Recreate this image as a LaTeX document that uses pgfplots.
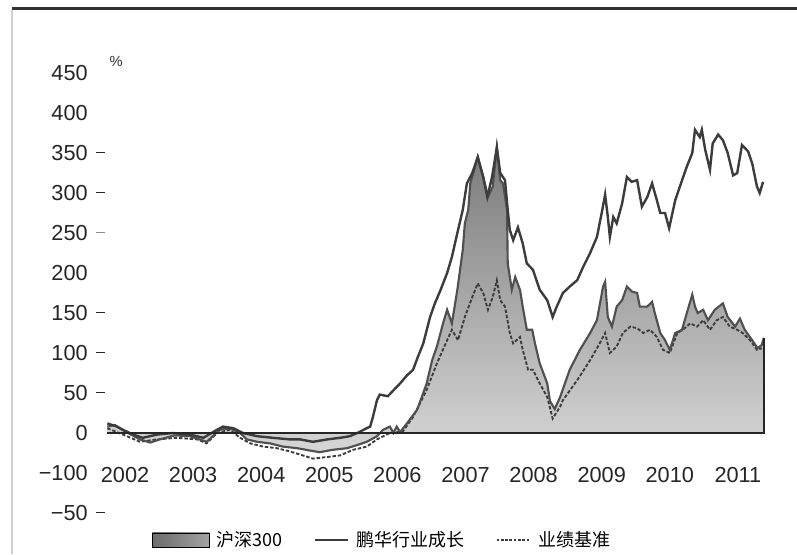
\documentclass[border=0pt]{standalone}
\usepackage{pgfplots}
\pgfplotsset{compat=1.18}
\usepackage{pgfplotstable}
\usepackage{fontspec}
\setmainfont{Liberation Sans}
\newfontfamily\cjk{Noto Sans CJK SC}
\definecolor{lineg}{HTML}{3C3C3C}
\definecolor{hsg}{HTML}{505050}

\pgfplotstableread{
x y
2001.74 12
2001.88 8
2001.97 4
2002.12 -2
2002.26 -6
2002.47 -2
2002.70 0
2002.95 -2
2003.15 -6
2003.35 4
2003.44 8
2003.59 6
2003.73 0
2003.94 -4
2004.17 -6
2004.42 -8
2004.57 -8
2004.76 -11
2004.97 -8
2005.16 -6
2005.30 -4
2005.41 0
2005.55 6
2005.60 8
2005.64 20
2005.70 41
2005.74 48
2005.86 46
2005.96 55
2006.04 62
2006.14 72
2006.23 79
2006.30 95
2006.38 112
2006.48 145
2006.55 162
2006.63 178
2006.73 200
2006.80 220
2006.88 250
2006.96 279
2007.02 312
2007.10 325
2007.18 345
2007.26 320
2007.32 295
2007.39 320
2007.46 357
2007.51 325
2007.58 316
2007.62 279
2007.65 254
2007.70 241
2007.77 257
2007.84 237
2007.90 212
2007.99 204
2008.09 179
2008.20 166
2008.28 145
2008.34 158
2008.43 175
2008.53 183
2008.64 191
2008.73 208
2008.83 225
2008.93 245
2009.00 275
2009.05 298
2009.09 270
2009.12 245
2009.17 270
2009.22 262
2009.30 287
2009.37 320
2009.44 314
2009.52 316
2009.59 283
2009.67 295
2009.74 312
2009.81 291
2009.86 275
2009.93 275
2009.99 256
2010.08 291
2010.18 316
2010.25 333
2010.33 350
2010.37 379
2010.44 370
2010.47 379
2010.52 354
2010.59 329
2010.63 362
2010.71 373
2010.78 366
2010.85 350
2010.93 322
2010.99 325
2011.06 360
2011.15 352
2011.21 337
2011.28 308
2011.32 300
2011.37 314
}\funddata

\pgfplotstableread{
x y
2001.74 8
2001.85 10
2002.00 2
2002.22 -8
2002.37 -12
2002.51 -8
2002.73 -3
2002.95 -4
2003.20 -11
2003.39 4
2003.54 6
2003.69 0
2003.79 -8
2003.94 -11
2004.13 -13
2004.32 -17
2004.53 -19
2004.72 -22
2004.86 -24
2005.05 -21
2005.26 -19
2005.41 -15
2005.55 -11
2005.70 -4
2005.79 4
2005.89 8
2005.94 0
2005.99 8
2006.04 1
2006.14 12
2006.29 29
2006.43 62
2006.51 91
2006.58 108
2006.67 137
2006.73 154
2006.80 137
2006.88 179
2006.92 204
2006.96 229
2006.99 262
2007.04 279
2007.07 312
2007.18 345
2007.26 320
2007.33 295
2007.40 308
2007.46 357
2007.51 316
2007.55 312
2007.61 279
2007.62 212
2007.68 179
2007.73 195
2007.80 179
2007.84 158
2007.90 129
2007.98 129
2008.02 112
2008.09 87
2008.20 62
2008.24 40
2008.31 30
2008.39 45
2008.53 79
2008.68 104
2008.83 125
2008.93 141
2009.02 183
2009.05 189
2009.09 145
2009.15 133
2009.22 158
2009.30 166
2009.37 183
2009.44 177
2009.52 175
2009.56 158
2009.67 158
2009.74 164
2009.78 150
2009.86 125
2009.93 116
2010.00 104
2010.08 125
2010.18 129
2010.25 150
2010.33 173
2010.37 158
2010.41 150
2010.49 154
2010.56 141
2010.66 154
2010.78 162
2010.85 145
2010.96 133
2011.03 143
2011.10 129
2011.21 116
2011.29 106
2011.35 110
2011.38 119
}\hsdata

\pgfplotstableread{
x y
2001.74 6
2001.97 -2
2002.22 -11
2002.47 -8
2002.76 -6
2003.06 -8
2003.20 -13
2003.35 0
2003.54 4
2003.69 -6
2003.84 -13
2004.03 -17
2004.23 -19
2004.42 -23
2004.61 -28
2004.76 -32
2004.97 -30
2005.16 -28
2005.35 -21
2005.55 -17
2005.70 -8
2005.89 0
2006.08 2
2006.23 20
2006.43 54
2006.58 87
2006.73 116
2006.80 129
2006.89 116
2006.99 145
2007.10 170
2007.18 187
2007.26 175
2007.33 154
2007.40 170
2007.46 191
2007.51 166
2007.58 158
2007.65 125
2007.70 112
2007.80 120
2007.84 104
2007.92 79
2007.99 79
2008.09 62
2008.20 45
2008.28 18
2008.39 33
2008.43 41
2008.64 66
2008.83 91
2008.97 112
2009.05 125
2009.12 100
2009.22 108
2009.31 125
2009.42 133
2009.52 131
2009.61 125
2009.71 129
2009.81 120
2009.90 104
2010.00 100
2010.11 125
2010.19 129
2010.30 137
2010.40 133
2010.49 141
2010.59 129
2010.69 141
2010.78 145
2010.88 133
2010.99 129
2011.07 125
2011.18 116
2011.28 104
2011.35 106
}\benchdata

\begin{document}
\begin{tikzpicture}
\path[use as bounding box] (-78.75pt,-27.75pt) rectangle (519pt,387.75pt);
\fill[white] (-78.75pt,-27.75pt) rectangle (519pt,387.75pt);
\draw[black!80, line width=1.6pt] (-69.75pt,381.4pt) -- (519pt,381.4pt);
\draw[black!18, line width=1.2pt] (-69.75pt,380.6pt) -- (-69.75pt,-27.75pt);
\begin{axis}[
  at={(0pt,0pt)}, anchor=south west,
  scale only axis, width=495pt, height=336pt,
  xmin=2001.706, xmax=2011.398, ymin=-105, ymax=455,
  axis line style={draw=none}, tick style={draw=none},
  clip=false,
  xtick={2002,2003,2004,2005,2006,2007,2008,2009,2010,2011},
  xticklabels={2002,2003,2004,2005,2006,2007,2008,2009,2010,2011},
  ytick={-100,-50,0,50,100,150,200,250,300,350,400,450},
  yticklabels={
    −50\rlap{\hspace{6.5pt}\rule[5.3pt]{6.5pt}{1.1pt}},
    −100,
    0,
    50\rlap{\hspace{6.5pt}\rule[5.3pt]{6.5pt}{1.1pt}},
    100\rlap{\hspace{6.5pt}\rule[5.3pt]{6.5pt}{1.1pt}},
    150\rlap{\hspace{6.5pt}\rule[5.3pt]{6.5pt}{1.1pt}},
    200,
    250\rlap{\hspace{6.5pt}\textcolor{black!45}{\rule[5.3pt]{6.5pt}{1.1pt}}},
    300\rlap{\hspace{6.5pt}\rule[5.3pt]{6.5pt}{1.1pt}},
    350\rlap{\hspace{6.5pt}\rule[5.3pt]{6.5pt}{1.1pt}},
    400,
    450},
  ticklabel style={font=\fontsize{16.3}{18}\selectfont, text=black!85},
  xticklabel style={anchor=center, inner sep=0pt, yshift=31.5pt},
  yticklabel style={anchor=east, inner sep=0pt, xshift=-12.75pt},
  legend columns=3,
  legend style={at={(0.071,-0.0513)}, anchor=west, draw=none, fill=none,
    inner sep=0pt, font=\cjk\fontsize{13.5}{15}\selectfont,
    /tikz/every even column/.append style={column sep=22pt},
    /tikz/every odd column/.append style={column sep=3pt}},
]
\addplot[draw=none, shading=axis, top color=black!52, bottom color=black!16, forget plot] table[x=x,y=y] {\hsdata} \closedcycle;
\addplot[lineg, line width=1.4pt, dash pattern=on 2.6pt off 1.4pt, forget plot] table[x=x,y=y] {\benchdata};
\addplot[hsg, line width=1.6pt, forget plot] table[x=x,y=y] {\hsdata};
\addplot[lineg, line width=1.8pt, forget plot] table[x=x,y=y] {\funddata};
\addplot[black!85, line width=1.4pt, forget plot] coordinates {(2011.38,119) (2011.38,0) (2001.74,0)};
\node[font=\fontsize{11}{12}\selectfont, text=black!80] at (axis cs:2001.87,465) {\%};
\addlegendimage{legend image code/.code={\shade[left color=black!58, right color=black!36] (0pt,-5.25pt) rectangle (42.75pt,5.25pt);}}
\addlegendentry{沪深300}
\addlegendimage{legend image code/.code={\draw[lineg, line width=1.3pt] (0pt,0pt) -- (25pt,0pt);}}
\addlegendentry{鹏华行业成长}
\addlegendimage{legend image code/.code={\draw[lineg, line width=1pt, dash pattern=on 2pt off 1.2pt] (0pt,0pt) -- (25.5pt,0pt);}}
\addlegendentry{业绩基准}
\end{axis}
\end{tikzpicture}
\end{document}
